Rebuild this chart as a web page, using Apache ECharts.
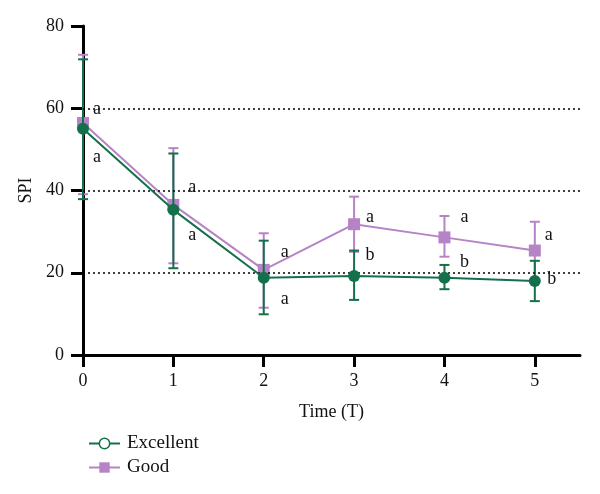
<!DOCTYPE html>
<html>
<head>
<meta charset="utf-8">
<script src="https://cdn.jsdelivr.net/npm/echarts@6/dist/echarts.min.js"></script>
<style>html,body{margin:0;padding:0;background:#fff}#c{width:600px;height:494px}</style>
</head>
<body>
<div id="c"></div>
<script>
// ---- data ----
const times = [0, 1, 2, 3, 4, 5];
const xTicks = [0, 1, 2, 3, 4, 5];
const yTicks = [0, 20, 40, 60, 80];
const gridLines = [20, 40, 60];
const excellentMean  = [55.0, 35.3, 18.8, 19.2, 18.8, 18.0];
const excellentUpper = [71.9, 49.0, 27.8, 25.4, 21.9, 22.9];
const excellentLower = [37.9, 21.1, 9.9, 13.4, 16.0, 13.1];
const goodMean  = [56.4, 36.5, 20.7, 31.8, 28.6, 25.4];
const goodUpper = [73.0, 50.3, 29.6, 38.5, 33.8, 32.4];
const goodLower = [39.1, 22.3, 11.5, 25.1, 23.9, 18.4];
const excellentLetters = ['a', 'a', 'a', 'b', 'b', 'b'];
const goodLetters      = ['a', 'a', 'a', 'a', 'a', 'a'];

// ---- layout (pixel offsets of the letters from each point) ----
const excellentLetterOffset = [[14, 28], [19, 25], [21, 22], [16, -21], [20, -15], [17, -2]];
const goodLetterOffset      = [[14, -14], [19, -18], [21, -18], [16, -7], [20, -20], [14, -15]];

const GREEN = '#13704a';
const PINK = '#b783c7';
const FONT = 'Liberation Serif';
const TXT = '#111';

function errSeries(name, lo, hi, color, z) {
  return {
    name: name + '_err', type: 'custom', z: z, silent: true,
    data: times.map((t, i) => [t, lo[i], hi[i]]),
    renderItem: function (params, api) {
      const x = api.value(0);
      const p1 = api.coord([x, api.value(1)]);
      const p2 = api.coord([x, api.value(2)]);
      const w = 5;
      const st = { stroke: color, lineWidth: 2 };
      return { type: 'group', children: [
        { type: 'line', shape: { x1: p1[0], y1: p1[1], x2: p2[0], y2: p2[1] }, style: st },
        { type: 'line', shape: { x1: p1[0] - w, y1: p1[1], x2: p1[0] + w, y2: p1[1] }, style: st },
        { type: 'line', shape: { x1: p2[0] - w, y1: p2[1], x2: p2[0] + w, y2: p2[1] }, style: st }
      ]};
    }
  };
}

function letterSeries(name, mean, letters, offs, z) {
  return {
    name: name + '_lbl', type: 'custom', z: z, silent: true,
    data: times.map((t, i) => [t, mean[i], i]),
    renderItem: function (params, api) {
      const i = api.value(2);
      const p = api.coord([api.value(0), api.value(1)]);
      return { type: 'text', x: p[0] + offs[i][0], y: p[1] + offs[i][1],
        style: { text: letters[i], fill: TXT, font: '18px "' + FONT + '"', align: 'center', verticalAlign: 'middle' } };
    }
  };
}

const chart = echarts.init(document.getElementById('c'), null, { renderer: 'canvas' });
chart.setOption({
  animation: false,
  backgroundColor: '#fff',
  grid: { left: 83, right: 20, top: 26, bottom: 139, containLabel: false },
  legend: {
    orient: 'vertical', left: 83, top: 429, itemWidth: 31, itemHeight: 13, itemGap: 5,
    textStyle: { fontFamily: FONT, fontSize: 19, color: TXT, padding: [0, 0, 0, 2] },
    data: [
      { name: 'Excellent', itemStyle: { color: '#fff', borderColor: GREEN, borderWidth: 1.5 } },
      { name: 'Good' }
    ]
  },
  xAxis: {
    type: 'value', min: 0, max: 5.5, interval: 1,
    name: 'Time (T)', nameLocation: 'middle', nameGap: 48,
    nameTextStyle: { fontFamily: FONT, fontSize: 18, color: TXT },
    axisLine: { show: true, onZero: false, lineStyle: { color: '#000', width: 3 } },
    axisTick: { show: true, length: 12, customValues: xTicks, lineStyle: { color: '#000', width: 3 } },
    axisLabel: { customValues: xTicks, margin: 17, fontFamily: FONT, fontSize: 18, color: TXT },
    splitLine: { show: false }
  },
  yAxis: {
    type: 'value', min: 0, max: 80, interval: 20,
    name: 'SPI', nameLocation: 'middle', nameGap: 47, nameRotate: 90,
    nameTextStyle: { fontFamily: FONT, fontSize: 18, color: TXT },
    axisLine: { show: true, onZero: false, lineStyle: { color: '#000', width: 3 } },
    axisTick: { show: true, length: 12, customValues: yTicks, lineStyle: { color: '#000', width: 3 } },
    axisLabel: { customValues: yTicks, margin: 19, fontFamily: FONT, fontSize: 18, color: TXT },
    splitLine: { show: false }
  },
  series: [
    errSeries('Good', goodLower, goodUpper, PINK, 2),
    {
      name: 'Good', type: 'line', z: 3,
      data: times.map((t, i) => [t, goodMean[i]]),
      symbol: 'rect', symbolSize: 12,
      lineStyle: { color: PINK, width: 2 }, itemStyle: { color: PINK },
      markLine: {
        silent: true, symbol: 'none', label: { show: false },
        lineStyle: { color: '#000', type: [2, 3], width: 1.5 },
        data: gridLines.map(v => ({ yAxis: v }))
      }
    },
    errSeries('Excellent', excellentLower, excellentUpper, GREEN, 4),
    {
      name: 'Excellent', type: 'line', z: 5,
      data: times.map((t, i) => [t, excellentMean[i]]),
      symbol: 'circle', symbolSize: 12,
      lineStyle: { color: GREEN, width: 2 }, itemStyle: { color: GREEN }
    },
    letterSeries('Good', goodMean, goodLetters, goodLetterOffset, 6),
    letterSeries('Excellent', excellentMean, excellentLetters, excellentLetterOffset, 6)
  ]
});
</script>
</body>
</html>
